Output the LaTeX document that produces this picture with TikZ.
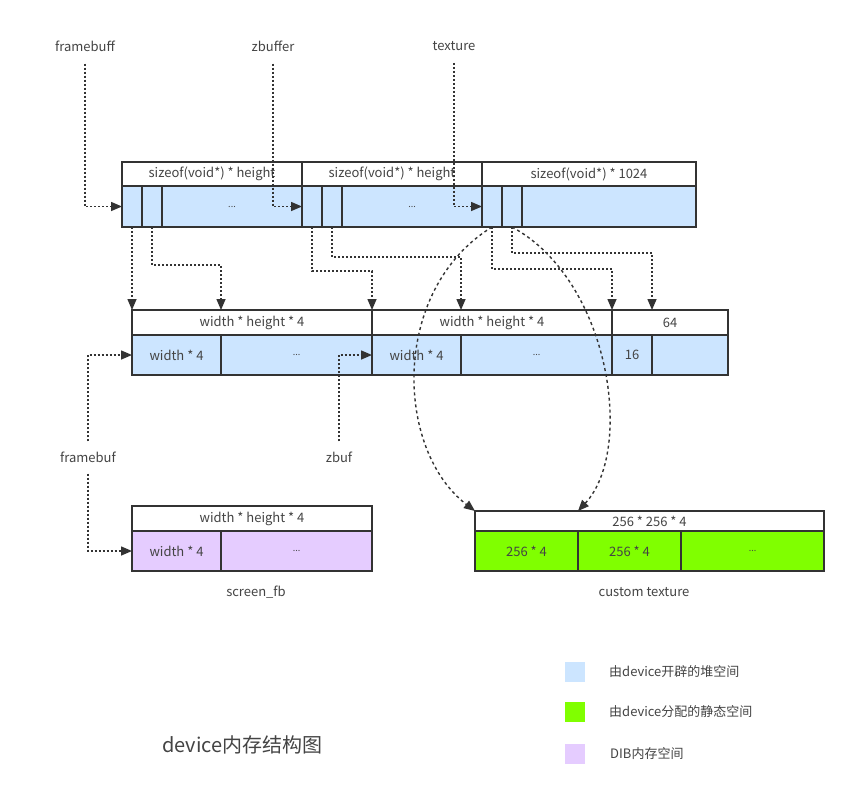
\documentclass[tikz,border=0pt]{standalone}
\usepackage{fontspec}
\setmainfont{Noto Sans CJK SC}
\usetikzlibrary{arrows.meta}
\definecolor{heap}{HTML}{CCE5FF}
\definecolor{stat}{HTML}{80FF00}
\definecolor{dib}{HTML}{E5CCFF}
\definecolor{ln}{HTML}{333333}
\definecolor{tx}{HTML}{444444}
\begin{document}
\begin{tikzpicture}[x=1pt,y=-1pt,
  cell/.style={draw=ln, line width=1.3pt, inner sep=0pt, outer sep=0pt, anchor=north west,
    font=\fontsize{13}{15}\selectfont, text=tx},
  sz/.style 2 args={minimum width=#1pt, minimum height=#2pt},
  lbl/.style={inner sep=2pt, font=\fontsize{13}{15}\selectfont, text=tx},
  arr/.style={draw=ln, line width=1.5pt, dash pattern=on 2pt off 2pt,
    -{Triangle[length=11pt,width=9pt]}},
  carr/.style={draw=ln, line width=1.4pt, dash pattern=on 3pt off 3pt,
    -{Triangle[length=11pt,width=9pt]}},
  dots/.style={font=\fontsize{9}{10}\selectfont}
]
\useasboundingbox (0,0) rectangle (849,798);
\fill[white] (0,0) rectangle (849,798);

% top block
\node[cell, sz={180}{24}] (th1) at (122,162) {sizeof(void*) * height};
\node[cell, sz={180}{24}] (th2) at (302,162) {sizeof(void*) * height};
\node[cell, sz={214}{24}] (th3) at (482,162) {sizeof(void*) * 1024};
\node[cell, fill=heap, sz={20}{41}] (t1) at (122,186) {};
\node[cell, fill=heap, sz={20}{41}] (t2) at (142,186) {};
\node[cell, fill=heap, sz={140}{41}, dots] (t3) at (162,186) {...};
\node[cell, fill=heap, sz={20}{41}] (t4) at (302,186) {};
\node[cell, fill=heap, sz={20}{41}] (t5) at (322,186) {};
\node[cell, fill=heap, sz={140}{41}, dots] (t6) at (342,186) {...};
\node[cell, fill=heap, sz={20}{41}] (t7) at (482,186) {};
\node[cell, fill=heap, sz={20}{41}] (t8) at (502,186) {};
\node[cell, fill=heap, sz={174}{41}] (t9) at (522,186) {};

% middle block
\node[cell, sz={240}{25}] (mh1) at (132,310) {width * height * 4};
\node[cell, sz={240}{25}] (mh2) at (372,310) {width * height * 4};
\node[cell, sz={116}{25}] (mh3) at (612,310) {64};
\node[cell, fill=heap, sz={89}{40}] (mb1) at (132,335) {width * 4};
\node[cell, fill=heap, sz={151}{40}, dots] (mb2) at (221,335) {...};
\node[cell, fill=heap, sz={89}{40}] (mb3) at (372,335) {width * 4};
\node[cell, fill=heap, sz={151}{40}, dots] (mb4) at (461,335) {...};
\node[cell, fill=heap, sz={40}{40}] (mb5) at (612,335) {16};
\node[cell, fill=heap, sz={76}{40}] (mb6) at (652,335) {};

% screen_fb block
\node[cell, sz={240}{25}] (sh) at (132,506) {width * height * 4};
\node[cell, fill=dib, sz={89}{40}] (sb1) at (132,531) {width * 4};
\node[cell, fill=dib, sz={151}{40}, dots] (sb2) at (221,531) {...};

% custom texture block
\node[cell, sz={349}{20}] (ch) at (475,511) {256 * 256 * 4};
\node[cell, fill=stat, sz={103}{40}] (cb1) at (475,531) {256 * 4};
\node[cell, fill=stat, sz={103}{40}] (cb2) at (578,531) {256 * 4};
\node[cell, fill=stat, sz={143}{40}, dots] (cb3) at (681,531) {...};

% labels
\node[lbl] (fbl) at (85,46) {framebuff};
\node[lbl] (zbl) at (273,46) {zbuffer};
\node[lbl] (txl) at (454,46) {texture};
\node[lbl] (fbl2) at (88,457) {framebuf};
\node[lbl] (zbl2) at (339,457) {zbuf};
\node[lbl] (sfb) at (256,592) {screen\_fb};
\node[lbl] (ctx) at (644,592) {custom texture};

% label arrows
\draw[arr, shorten <=10pt] (fbl.south) |- (t1.west);
\draw[arr, shorten <=10pt] (zbl.south) |- (t4.west);
\draw[arr, shorten <=10pt] (txl.south) |- (t7.west);
\draw[arr, shorten <=8pt] (fbl2.north) |- (mb1.west);
\draw[arr, shorten <=8pt] (zbl2.north) |- (mb3.west);
\draw[arr, shorten <=9pt] (fbl2.south) |- (sb1.west);

% top to middle arrows
\draw[arr] (t1.south) -- (t1.south |- mh1.north);
\draw[arr] (t2.south) -- ++(0,38) -| (mb1.east |- mh1.north);
\draw[arr] (t4.south) -- ++(0,44) -| (mh2.north west);
\draw[arr] (t5.south) -- ++(0,30) -| (mb3.east |- mh2.north);
\draw[arr] (t7.south) -- ++(0,42) -| (mh3.north west);
\draw[arr] (t8.south) -- ++(0,26) -| (mb5.east |- mh3.north);

% curved arrows to custom texture
\draw[carr] (t7.south) .. controls (390,290) and (395,450) .. (ch.north west);
\draw[carr] (t8.south) .. controls (610,280) and (635,450) .. (cb2.west |- ch.north);

% legend
\node[fill=heap, minimum size=20pt, inner sep=0pt, anchor=north west] (lg1) at (565,662) {};
\node[fill=stat, minimum size=20pt, inner sep=0pt, anchor=north west] (lg2) at (565,702) {};
\node[fill=dib, minimum size=20pt, inner sep=0pt, anchor=north west] (lg3) at (565,744) {};
\node[lbl, anchor=west, inner sep=0pt] (lt1) at (609,672) {由device开辟的堆空间};
\node[lbl, anchor=west, inner sep=0pt] (lt2) at (609,712) {由device分配的静态空间};
\node[lbl, anchor=west, inner sep=0pt] (lt3) at (610,754) {DIB内存空间};

% title
\node[anchor=west, inner sep=0pt, text=tx, font=\fontsize{20}{22}\selectfont] (title) at (162,745) {device内存结构图};
\end{tikzpicture}
\end{document}
